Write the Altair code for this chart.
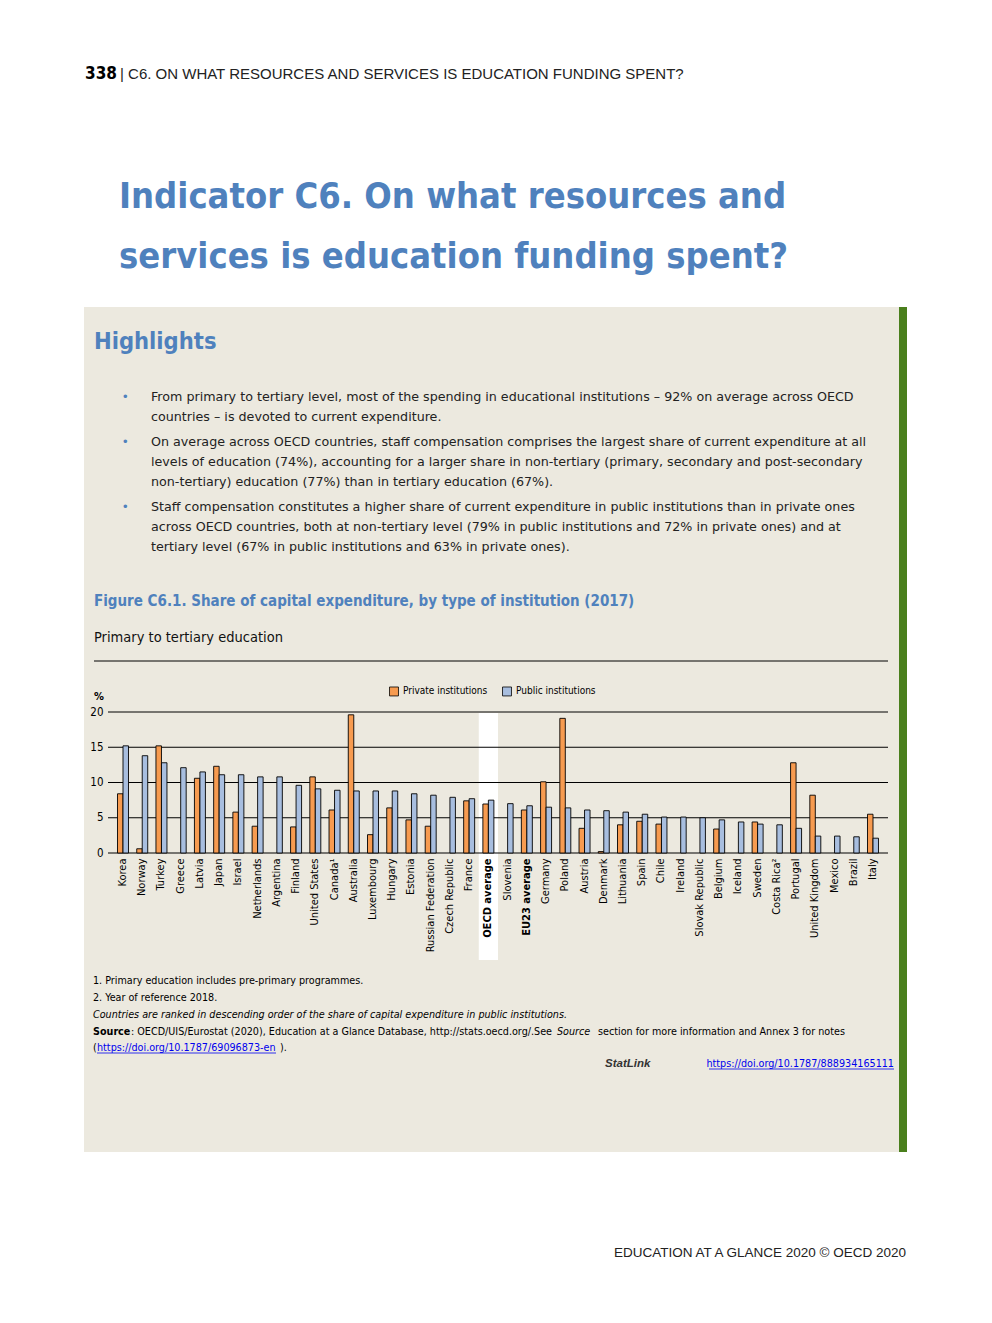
import altair as alt
import pandas as pd

countries = ["Korea", "Norway", "Turkey", "Greece", "Latvia", "Japan", "Israel",
             "Netherlands", "Argentina", "Finland", "United States", "Canada\u00b9",
             "Australia", "Luxembourg", "Hungary", "Estonia", "Russian Federation",
             "Czech Republic", "France", "OECD average", "Slovenia", "EU23 average",
             "Germany", "Poland", "Austria", "Denmark", "Lithuania", "Spain", "Chile",
             "Ireland", "Slovak Republic", "Belgium", "Iceland", "Sweden",
             "Costa Rica\u00b2", "Portugal", "United Kingdom", "Mexico", "Brazil", "Italy"]
private_inst = [8.4, 0.6, 15.2, None, 10.6, 12.3, 5.8, 3.8, None, 3.7, 10.8, 6.1,
                19.6, 2.6, 6.4, 4.7, 3.8, None, 7.4, 6.95, None, 6.1, 10.1, 19.1,
                3.5, 0.2, 4.0, 4.5, 4.1, None, None, 3.4, None, 4.4, None, 12.8,
                8.2, None, None, 5.5]
public_inst = [15.2, 13.8, 12.8, 12.1, 11.5, 11.1, 11.1, 10.8, 10.8, 9.6, 9.1, 8.9,
               8.8, 8.8, 8.8, 8.4, 8.2, 7.9, 7.7, 7.5, 7.0, 6.7, 6.5, 6.4, 6.1, 6.0,
               5.8, 5.5, 5.1, 5.1, 5.0, 4.7, 4.4, 4.1, 4.0, 3.5, 2.4, 2.4, 2.3, 2.1]
series = ["Private institutions", "Public institutions"]
tick_values = [0, 5, 10, 15, 20]

rows = []
for c, pv, pu in zip(countries, private_inst, public_inst):
    if pv is not None:
        rows.append({"country": c, "type": series[0], "value": pv})
    if pu is not None:
        rows.append({"country": c, "type": series[1], "value": pu})
df = pd.DataFrame(rows)

NARROW = "DejaVu Sans Condensed, Liberation Sans Narrow, sans-serif"
SANS = "Liberation Sans, Arial, sans-serif"
BODY = "DejaVu Sans, sans-serif"
BLUE = "#4F81BD"
ORANGE = "#F79B50"
LIGHTBLUE = "#A8BEDF"
TAN = "#ECE9DF"
GREEN = "#4A7F1C"
LINK = "#0000EE"

OX, OY = 108, 712  # screen position of the plot origin
W, H = 780, 141

one = pd.DataFrame({"a": [1]})


def txt(text, x, y, size, weight="normal", color="#000000", font=NARROW,
        align="left", style="normal", lh=None):
    kw = dict(text=text, x=x - OX, y=y - OY, fontSize=size, fontWeight=weight,
              color=color, font=font, align=align, baseline="alphabetic",
              fontStyle=style)
    if lh is not None:
        kw["lineHeight"] = lh
    return alt.Chart(one).mark_text(**kw).encode()


def box(x1, y1, x2, y2, color):
    return alt.Chart(one).mark_rect(color=color).encode(
        x=alt.value(x1 - OX), x2=alt.value(x2 - OX),
        y=alt.value(y1 - OY), y2=alt.value(y2 - OY))


def hline(x1, x2, y, color="#000000", w=1.0):
    return alt.Chart(one).mark_rule(color=color, strokeWidth=w).encode(
        x=alt.value(x1 - OX), x2=alt.value(x2 - OX), y=alt.value(y - OY))


xscale = alt.Scale(domain=countries, paddingInner=0, paddingOuter=0.28)
xaxis = alt.Axis(title=None, labelAngle=270, labelAlign="right",
                 labelBaseline="middle", labelPadding=5, ticks=False,
                 domain=False, labelFont=NARROW, labelFontSize=11,
                 labelColor="#000000", labelOverlap=False, labelLimit=0,
                 zindex=1,
                 labelFontWeight={"condition": {
                     "test": "datum.value == 'OECD average' || datum.value == 'EU23 average'",
                     "value": "bold"}, "value": "normal"})
yscale = alt.Scale(domain=[0, 20], nice=False)
yaxis = alt.Axis(title=None, values=tick_values, grid=False, domain=False,
                 ticks=False, labelPadding=5, labelFont=NARROW, labelFontSize=11.5,
                 labelColor="#000000", zindex=1)

highlight = alt.Chart(pd.DataFrame({"country": ["OECD average"]})).mark_bar(
    color="white").encode(
    x=alt.X("country:N", scale=xscale, axis=xaxis),
    y=alt.value(1), y2=alt.value(960 - OY))

grid = alt.Chart(pd.DataFrame({"value": tick_values})).mark_rule(
    color="#000000", strokeWidth=1).encode(
    y=alt.Y("value:Q", scale=yscale, axis=yaxis),
    x=alt.value(0), x2=alt.value(W))

bars = alt.Chart(df).mark_bar(stroke="#000000", strokeWidth=0.9).encode(
    x=alt.X("country:N", scale=xscale, axis=xaxis),
    xOffset=alt.XOffset("type:N", sort=series,
                        scale=alt.Scale(paddingInner=0, paddingOuter=0.75)),
    y=alt.Y("value:Q", scale=yscale, axis=yaxis),
    color=alt.Color("type:N", sort=series,
                    scale=alt.Scale(domain=series, range=[ORANGE, LIGHTBLUE]),
                    legend=alt.Legend(title=None, orient="none", legendX=389 - OX,
                                      legendY=686 - OY, direction="horizontal",
                                      symbolType="square", symbolSize=80,
                                      symbolStrokeColor="#000000",
                                      symbolStrokeWidth=0.8, labelFont=NARROW,
                                      labelFontSize=10, labelColor="#000000",
                                      columnPadding=12, labelOffset=4, padding=0,
                                      zindex=1)),
)

layers = [
    box(84, 307, 899, 1152, TAN),
    box(899, 307, 907, 1152, GREEN),
    highlight,
    grid,
    bars,
    # header
    txt("338", 85, 79, 17, weight="bold"),
    txt("| C6. ON WHAT RESOURCES AND SERVICES IS EDUCATION FUNDING SPENT?", 120, 79,
        15, font=SANS, color="#222222"),
    # big title
    txt(["Indicator C6. On what resources and", "services is education funding spent?"],
        119, 208, 36, weight="bold", color=BLUE, lh=60),
    # highlights
    txt("Highlights", 94, 349, 23.5, weight="bold", color=BLUE),
    txt("\u2022", 123, 401, 13, color=BLUE, font=SANS),
    txt("\u2022", 123, 446, 13, color=BLUE, font=SANS),
    txt("\u2022", 123, 511, 13, color=BLUE, font=SANS),
    txt(["From primary to tertiary level, most of the spending in educational institutions \u2013 92% on average across OECD",
         "countries \u2013 is devoted to current expenditure."],
        151, 401, 12.7, font=BODY, color="#222222", lh=20),
    txt(["On average across OECD countries, staff compensation comprises the largest share of current expenditure at all",
         "levels of education (74%), accounting for a larger share in non-tertiary (primary, secondary and post-secondary",
         "non-tertiary) education (77%) than in tertiary education (67%)."],
        151, 446, 12.7, font=BODY, color="#222222", lh=20),
    txt(["Staff compensation constitutes a higher share of current expenditure in public institutions than in private ones",
         "across OECD countries, both at non-tertiary level (79% in public institutions and 72% in private ones) and at",
         "tertiary level (67% in public institutions and 63% in private ones)."],
        151, 511, 12.7, font=BODY, color="#222222", lh=20),
    # figure title
    txt("Figure C6.1. Share of capital expenditure, by type of institution (2017)",
        94, 606, 15, weight="bold", color=BLUE),
    txt("Primary to tertiary education", 94, 642, 14.5, color="#111111"),
    hline(94, 888, 661),
    txt("%", 94, 700, 11, weight="bold"),
    # notes
    txt("1. Primary education includes pre-primary programmes.", 93, 984, 10.7),
    txt("2. Year of reference 2018.", 93, 1001, 10.7),
    txt("Countries are ranked in descending order of the share of capital expenditure in public institutions.",
        93, 1018, 10.7, style="italic"),
    txt("Source", 93, 1035, 10.7, weight="bold"),
    txt(": OECD/UIS/Eurostat (2020), Education at a Glance Database, http://stats.oecd.org/.See",
        131, 1035, 10.7),
    txt("Source", 557, 1035, 10.7, style="italic"),
    txt("section for more information and Annex 3 for notes", 598, 1035, 10.7),
    txt("(", 93, 1051, 10.7),
    txt("https://doi.org/10.1787/69096873-en", 97, 1051, 10.7, color=LINK),
    hline(97, 276, 1053, color=LINK, w=0.8),
    txt(").", 280, 1051, 10.7),
    txt("StatLink", 605, 1067, 11.5, weight="bold", style="italic", font=SANS,
        color="#333333"),
    txt("https://doi.org/10.1787/888934165111", 894, 1067, 10.7, color=LINK,
        align="right"),
    hline(709, 894, 1069, color=LINK, w=0.8),
    # footer
    txt("EDUCATION AT A GLANCE 2020 \u00a9 OECD 2020", 906, 1257, 13.5, font=SANS,
        color="#222222", align="right"),
]

chart = alt.layer(*layers).properties(
    width=W, height=H,
    padding={"left": OX - 8, "top": OY - 8, "right": 976 - (OX - 8) - W,
             "bottom": 1290 - (OY - 8) - H},
    autosize=alt.AutoSizeParams(type="none"),
).configure(background="white").configure_view(stroke=None)

chart.save("out.html", embed_options={"renderer": "svg", "actions": False})
